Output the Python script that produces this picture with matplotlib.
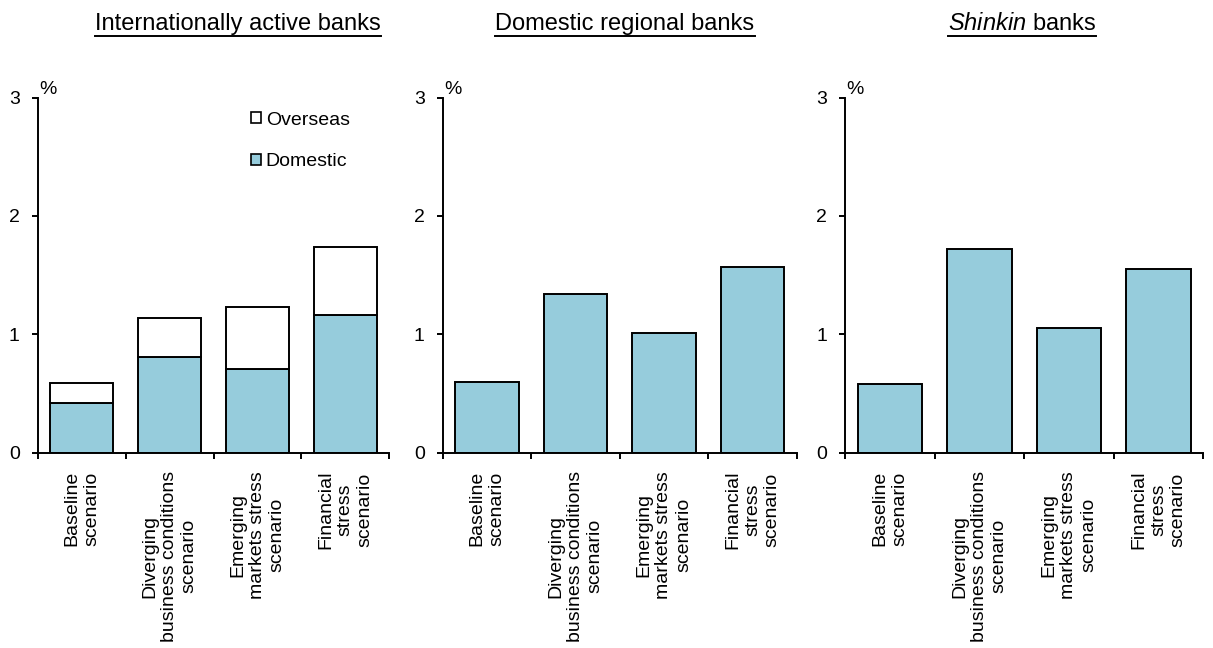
import matplotlib
matplotlib.use("Agg")
import matplotlib.pyplot as plt
from matplotlib.patches import Patch
from matplotlib.lines import Line2D

plt.rcParams['font.family'] = ['Liberation Sans', 'DejaVu Sans']
plt.rcParams['font.size'] = 14
plt.rcParams['mathtext.fontset'] = 'custom'
plt.rcParams['mathtext.it'] = 'Liberation Sans:italic'
plt.rcParams['mathtext.rm'] = 'Liberation Sans'

# data (%)
scenarios = ["Baseline\nscenario",
             "Diverging\nbusiness conditions\nscenario",
             "Emerging\nmarkets stress\nscenario",
             "Financial\nstress\nscenario"]
intl_domestic = [0.42, 0.81, 0.71, 1.16]
intl_overseas = [0.17, 0.33, 0.52, 0.58]
regional = [0.60, 1.34, 1.01, 1.57]
shinkin = [0.58, 1.72, 1.05, 1.55]

titles = ["Internationally active banks", "Domestic regional banks", "$\\it{Shinkin}$ banks"]
title_x = [238, 625, 1022]   # pixel centres

blue = "#96CCDC"
W, H = 1213, 648
fig = plt.figure(figsize=(W / 100, H / 100), dpi=100)

boxes = [(37.7, 389.3), (442.7, 796.7), (845, 1203.3)]
y0, y3 = 452.7, 97.5
axes = []
for (xl, xr) in boxes:
    ax = fig.add_axes([xl / W, 1 - y0 / H, (xr - xl) / W, (y0 - y3) / H])
    axes.append(ax)

xs = list(range(len(scenarios)))
bw = 0.72
kw = dict(width=bw, edgecolor="black", linewidth=1.4)

ax = axes[0]
ax.bar(xs, intl_domestic, color=blue, **kw)
ax.bar(xs, intl_overseas, bottom=intl_domestic, color="white", **kw)
axes[1].bar(xs, regional, color=blue, **kw)
axes[2].bar(xs, shinkin, color=blue, **kw)

for ax in axes:
    ax.set_xlim(-0.5, 3.5)
    ax.set_ylim(0, 3)
    ax.set_yticks([0, 1, 2, 3])
    ax.set_xticks([-0.5, 0.5, 1.5, 2.5, 3.5])
    ax.set_xticklabels([])
    ax.set_xticks(xs, minor=True)
    ax.set_xticklabels(scenarios, minor=True, rotation=90, multialignment="center")
    ax.tick_params(axis="x", which="minor", length=0, pad=13)
    ax.tick_params(axis="x", which="major", length=4, width=1.4, direction="out")
    ax.tick_params(axis="y", length=4, width=1.4, pad=9)
    for s in ["top", "right"]:
        ax.spines[s].set_visible(False)
    for s in ["left", "bottom"]:
        ax.spines[s].set_linewidth(1.4)
    ax.text(0.004, 1.0, "%", transform=ax.transAxes, ha="left", va="bottom", fontsize=14)

handles = [Patch(facecolor="white", edgecolor="black", linewidth=1.2, label="Overseas"),
           Patch(facecolor=blue, edgecolor="black", linewidth=1.2, label="Domestic")]
axes[0].legend(handles=handles, loc="upper left", bbox_to_anchor=(0.607, 0.96),
               frameon=False, borderpad=0, borderaxespad=0, handlelength=0.5,
               handleheight=0.5, handletextpad=0.25, labelspacing=1.25, fontsize=14)

texts = []
for t, cx in zip(titles, title_x):
    texts.append(fig.text(cx / W, 1 - 30 / H, t, ha="center", va="baseline", fontsize=17))

fig.canvas.draw()
r = fig.canvas.get_renderer()
for t in texts:
    bb = t.get_window_extent(r)
    yy = 1 - 35.5 / H
    fig.add_artist(Line2D([bb.x0 / W, bb.x1 / W], [yy, yy], color="black", linewidth=1.4,
                          transform=fig.transFigure))

fig.savefig("out.png", dpi=100)
